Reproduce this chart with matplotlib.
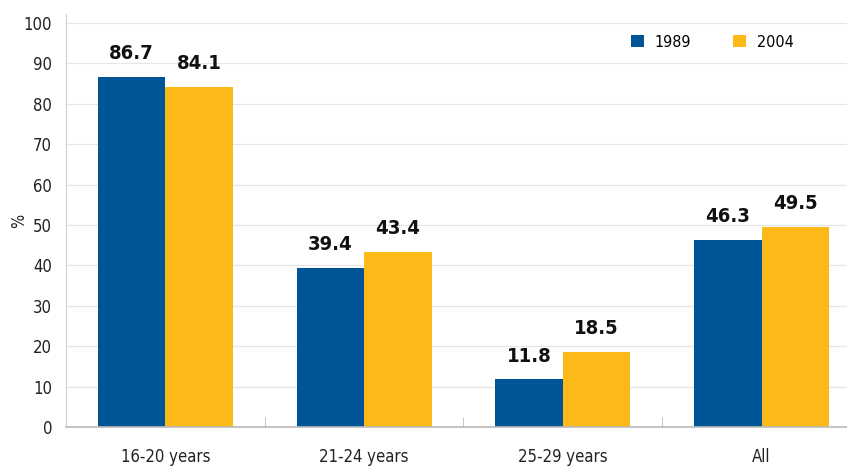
import numpy as np
import matplotlib
matplotlib.use("Agg")
import matplotlib.pyplot as plt
from matplotlib import font_manager

# use a narrow face if one is installed
names = {f.name for f in font_manager.fontManager.ttflist}
narrow = [n for n in ['Liberation Sans Narrow', 'DejaVu Sans Condensed'] if n in names]
plt.rcParams['font.family'] = narrow + ['DejaVu Sans']
plt.rcParams['font.stretch'] = 'condensed'

categories = ['16-20 years', '21-24 years', '25-29 years', 'All']
series_names = ['1989', '2004']
values_1989 = [86.7, 39.4, 11.8, 46.3]
values_2004 = [84.1, 43.4, 18.5, 49.5]
colors = ['#005596', '#FCB918']

fig = plt.figure(figsize=(8.47, 4.67), dpi=100)
ax = fig.add_axes([66 / 847, 40 / 467, 781 / 847, 413 / 467])

x = np.arange(len(categories))
w = 0.34
for i, (vals, name) in enumerate(zip([values_1989, values_2004], series_names)):
    pos = x + (i - 0.5) * w
    ax.bar(pos, vals, width=w, color=colors[i], label=name, zorder=2)
    for px, v in zip(pos, vals):
        ax.text(px, v + 3.4, f'{v:.1f}', ha='center', va='bottom',
                fontsize=14.5, fontweight='bold', color='#111111')

ax.set_xlim(-0.5, 3.43)
ax.set_ylim(0, 102.2)
ax.set_yticks(np.arange(0, 101, 10))
ax.set_xticks(x)
ax.set_xticklabels(categories)
ax.set_xticks([0.5, 1.5, 2.5], minor=True)
ax.tick_params(axis='x', which='major', length=0, pad=15, labelsize=12, colors='#222222')
ax.tick_params(axis='x', which='minor', length=7, direction='in', color='#bbbbbb')
ax.tick_params(axis='y', length=0, pad=10, labelsize=12, colors='#222222')
ax.set_ylabel('%', fontsize=12, color='#222222')
ax.yaxis.set_label_coords(-0.048, 0.5)

ax.grid(axis='y', color='#e6e6e6', linewidth=0.9, zorder=0)
ax.set_axisbelow(True)
for s in ['top', 'right']:
    ax.spines[s].set_visible(False)
ax.spines['left'].set_color('#d0d0d0')
ax.spines['bottom'].set_color('#bbbbbb')
ax.spines['bottom'].set_linewidth(1.2)

ax.legend(loc='upper right', bbox_to_anchor=(0.95, 0.985), ncol=2, frameon=False,
          fontsize=11.5, handlelength=0.8, handleheight=0.8, columnspacing=2.6,
          handletextpad=0.7)

plt.savefig('out.png', dpi=100)
